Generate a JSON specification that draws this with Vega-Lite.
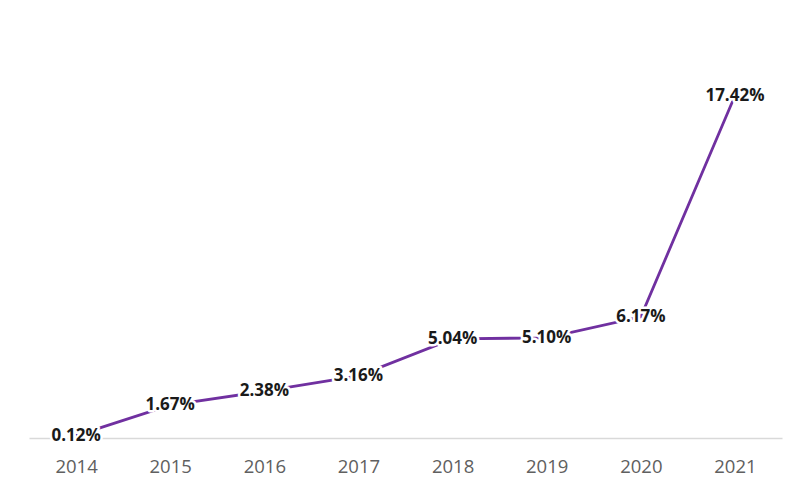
{
  "$schema": "https://vega.github.io/schema/vega-lite/v6.json",
  "width": 753,
  "height": 393,
  "autosize": "none",
  "padding": {"left": 29, "top": 45, "right": 27, "bottom": 59},
  "background": "white",
  "config": {"view": {"stroke": null}},
  "data": {
    "values": [
      {"year": "2014", "rate": 0.12, "label": "0.12%"},
      {"year": "2015", "rate": 1.67, "label": "1.67%"},
      {"year": "2016", "rate": 2.38, "label": "2.38%"},
      {"year": "2017", "rate": 3.16, "label": "3.16%"},
      {"year": "2018", "rate": 5.04, "label": "5.04%"},
      {"year": "2019", "rate": 5.10, "label": "5.10%"},
      {"year": "2020", "rate": 6.17, "label": "6.17%"},
      {"year": "2021", "rate": 17.42, "label": "17.42%"}
    ]
  },
  "encoding": {
    "x": {
      "field": "year",
      "type": "ordinal",
      "scale": {"type": "point", "padding": 0.5},
      "axis": {
        "title": null,
        "labelAngle": 0,
        "ticks": false,
        "domainColor": "#d9d9d9",
        "domainWidth": 1.5,
        "labelColor": "#606060",
        "labelFont": "Open Sans",
        "labelFontSize": 18.5,
        "labelPadding": 19,
        "grid": false
      }
    },
    "y": {
      "field": "rate",
      "type": "quantitative",
      "scale": {"domain": [0, 20], "nice": false},
      "axis": null
    }
  },
  "layer": [
    {
      "mark": {"type": "line", "color": "#7030a0", "strokeWidth": 2.8}
    },
    {
      "mark": {
        "type": "text",
        "font": "Open Sans",
        "fontSize": 17,
        "fontWeight": "bold",
        "baseline": "middle",
        "stroke": "white",
        "strokeWidth": 5,
        "strokeJoin": "round",
        "fill": "white"
      },
      "encoding": {"text": {"field": "label"}}
    },
    {
      "mark": {
        "type": "text",
        "font": "Open Sans",
        "fontSize": 17,
        "fontWeight": "bold",
        "baseline": "middle",
        "color": "#1a1a1a"
      },
      "encoding": {"text": {"field": "label"}}
    }
  ]
}
